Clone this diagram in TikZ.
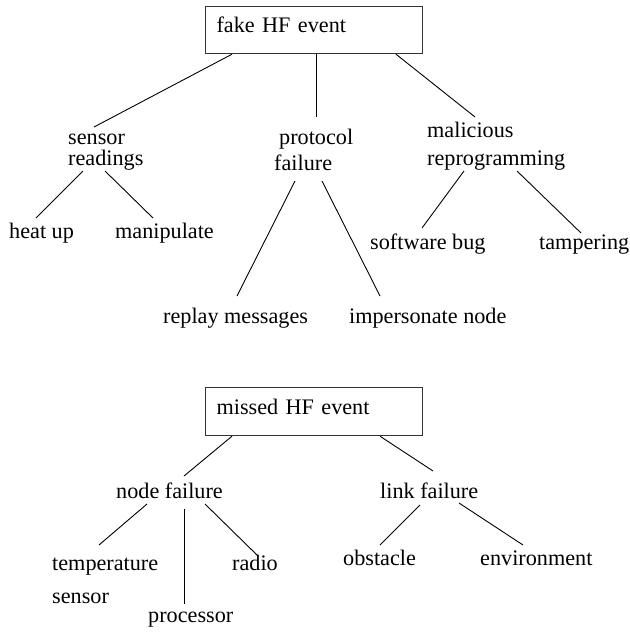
\documentclass[tikz,border=0pt]{standalone}
\usepackage{fontspec}
\setmainfont{Liberation Serif}
\usetikzlibrary{calc}
\tikzstyle{event} = [draw=black!80, line width=1.2pt, anchor=north west, inner xsep=11pt, inner ysep=0pt,
	text width=195pt, align=left, text height=26pt, text depth=21pt, font=\fontsize{22.2}{21}\selectfont]
\tikzstyle{cause} = [anchor=base west, inner sep=0pt, align=left, font=\fontsize{22.2}{21}\selectfont]
\tikzstyle{branch} = [line width=0.9pt]

\begin{document}
\begin{tikzpicture}[x=1pt, y=-1pt]
				\useasboundingbox (0,0) rectangle (630,633);
				% fake HF event
				\node [event] (fake) at (205,6) {fake HF event};
				\node [cause] (sensor) at (68,165) {sensor\\readings};
				\node [cause] (protocol) at (274,170) {\hspace*{5pt}protocol\\[5pt]failure};
				\node [cause] (malicious) at (427,165) {malicious\\[7pt]reprogramming};
				\node [cause] (heat) at (9,238) {heat up};
				\node [cause] (manip) at (115,238) {manipulate};
				\node [cause] (replay) at (163,323) {replay messages};
				\node [cause] (imper) at (349,323) {impersonate node};
				\node [cause] (bug) at (370,249) {software bug};
				\node [cause] (tamper) at (539,249) {tampering};
				\draw [branch] ($(fake.south west)+(27,0)$) -- ($(sensor.base west)+(26,-38)$);
				\draw [branch] ($(fake.south west)+(111,0)$) -- ($(protocol.base west)+(42,-53)$);
				\draw [branch] ($(fake.south west)+(191,0)$) -- ($(malicious.base west)+(48,-48)$);
				\draw [branch] ($(sensor.base west)+(15,6)$) -- ($(heat.base west)+(27,-20)$);
				\draw [branch] ($(sensor.base west)+(37,6)$) -- ($(manip.base west)+(38,-20)$);
				\draw [branch] ($(protocol.base west)+(21,11)$) -- ($(replay.base west)+(74,-27)$);
				\draw [branch] ($(protocol.base west)+(48,11)$) -- ($(imper.base west)+(31,-27)$);
				\draw [branch] ($(malicious.base west)+(37,6)$) -- ($(bug.base west)+(52,-21)$);
				\draw [branch] ($(malicious.base west)+(90,6)$) -- ($(tamper.base west)+(42,-16)$);
				% missed HF event
				\node [event, text height=27pt] (missed) at (205,387) {missed HF event};
				\node [cause] (nodefail) at (116,498) {node failure};
				\node [cause] (linkfail) at (380,498) {link failure};
				\node [cause] (temp) at (52,603) {temperature\\[12pt]sensor};
				\node [cause] (proc) at (148,622) {processor};
				\node [cause] (radio) at (232,570) {radio};
				\node [cause] (obst) at (343,565) {obstacle};
				\node [cause] (env) at (480,565) {environment};
				\draw [branch] ($(missed.south west)+(27,0)$) -- ($(nodefail.base west)+(68,-22)$);
				\draw [branch] ($(missed.south west)+(175,0)$) -- ($(linkfail.base west)+(53,-27)$);
				\draw [branch] ($(nodefail.base west)+(31,6)$) -- ($(temp.base west)+(47,-58)$);
				\draw [branch] ($(nodefail.base west)+(68,11)$) -- ($(proc.base west)+(36,-18)$);
				\draw [branch] ($(nodefail.base west)+(89,6)$) -- ($(radio.base west)+(25,-15)$);
				\draw [branch] ($(linkfail.base west)+(40,7)$) -- ($(obst.base west)+(37,-20)$);
				\draw [branch] ($(linkfail.base west)+(79,5)$) -- ($(env.base west)+(43,-20)$);
	\end{tikzpicture}
\end{document}
